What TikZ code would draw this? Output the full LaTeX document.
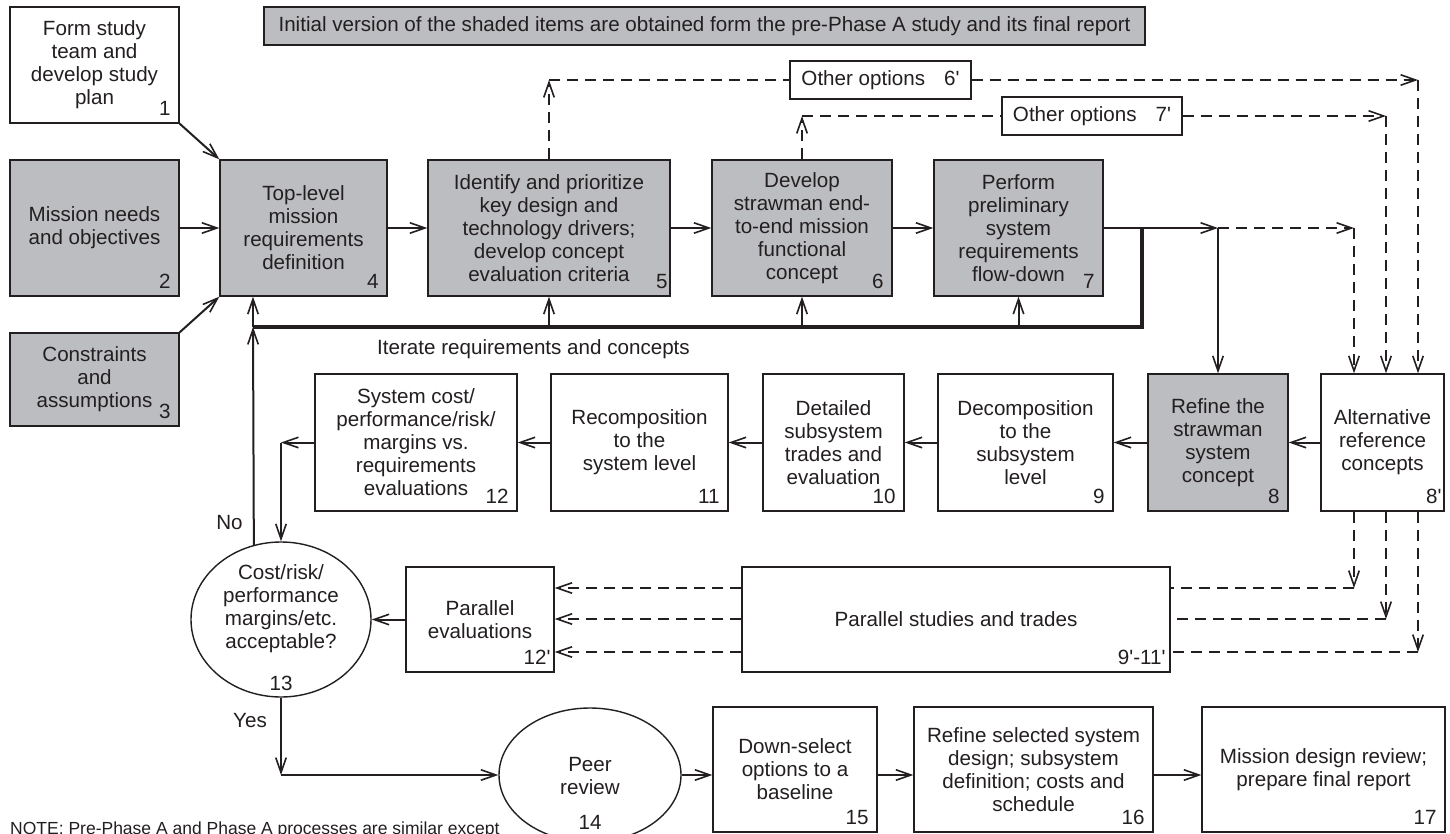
\documentclass[tikz,border=0pt]{standalone}
\usepackage{fontspec}
\setmainfont{Liberation Sans}[Ligatures=TeXOff]
\usetikzlibrary{arrows.meta,shapes.geometric}
\definecolor{ink}{RGB}{35,31,32}
\definecolor{shade}{RGB}{188,189,192}
\tikzset{
  lbl/.style={text=ink, font=\fontsize{20.6}{23}\selectfont, inner sep=0pt},
  box/.style={lbl, draw=ink, line width=1.4pt, fill=white, align=center, rectangle},
  gbox/.style={box, fill=shade},
  oval/.style={lbl, draw=ink, line width=1.4pt, ellipse, fill=white},
  num/.style={lbl, anchor=south east, xshift=-9pt, yshift=8pt},
  conn/.style={draw=ink, line width=2pt},
  barbtip/.style={-{Straight Barb[length=15pt,width=10.5pt,line width=1.6pt]}},
  arr/.style={conn, barbtip},
  dline/.style={draw=ink, line width=2.2pt, dash pattern=on 11pt off 7pt},
  darr/.style={dline, barbtip},
  iterline/.style={draw=ink, line width=4.5pt},
}
\begin{document}
\begin{tikzpicture}[x=1pt,y=-1pt]
\fill[white] (0,0) rectangle (1450,834);
\useasboundingbox (0,0) rectangle (1450,834);

% heading note
\node[gbox, minimum width=881pt, minimum height=38pt] (hdr) at (704.5,26)
  {Initial version of the shaded items are obtained form the pre-Phase A study and its final report};

% top row
\node[box, minimum width=169pt, minimum height=116pt] (b1) at (94.5,65) {Form study\\team and\\develop study\\plan};
\node[gbox, minimum width=169pt, minimum height=136pt] (b2) at (94.5,228) {Mission needs\\and objectives};
\node[gbox, minimum width=169pt, minimum height=93pt] (b3) at (94.5,379.5) {Constraints\\and\\assumptions};
\node[gbox, minimum width=167pt, minimum height=136pt] (b4) at (303.5,228) {Top-level\\mission\\requirements\\definition};
\node[gbox, minimum width=242pt, minimum height=136pt] (b5) at (549,228) {Identify and prioritize\\key design and\\technology drivers;\\develop concept\\evaluation criteria};
\node[gbox, minimum width=180pt, minimum height=136pt] (b6) at (802,228) {Develop\\strawman end-\\to-end mission\\functional\\concept};
\node[gbox, minimum width=169pt, minimum height=136pt] (b7) at (1018.5,228) {Perform\\preliminary\\system\\requirements\\flow-down};

% other options
\node[box, minimum width=181pt, minimum height=38pt] (o6) at (880.5,80) {Other options\hspace{19pt}6'};
\node[box, minimum width=180pt, minimum height=38pt] (o7) at (1092,116) {Other options\hspace{19pt}7'};

% middle row
\node[box, minimum width=202pt, minimum height=137pt] (b12) at (416,442.5) {System cost/\\performance/risk/\\margins vs.\\requirements\\evaluations};
\node[box, minimum width=177pt, minimum height=137pt] (b11) at (639.5,442.5) {Recomposition\\to the\\system level};
\node[box, minimum width=141pt, minimum height=137pt] (b10) at (833.5,442.5) {Detailed\\subsystem\\trades and\\evaluation};
\node[box, minimum width=175pt, minimum height=137pt] (b9) at (1025.5,442.5) {Decomposition\\to the\\subsystem\\level};
\node[gbox, minimum width=140pt, minimum height=137pt] (b8) at (1218,442.5) {Refine the\\strawman\\system\\concept};
\node[box, minimum width=123pt, minimum height=137pt] (b8p) at (1382.5,442.5) {Alternative\\reference\\concepts};

% third row
\node[oval, minimum width=180pt, minimum height=155pt] (b13) at (281,619.5) {};
\node[lbl, align=center] (t13) at (281,608.5) {Cost/risk/\\performance\\margins/etc.\\acceptable?};
\node[lbl] (n13) at (281,683) {13};
\node[box, minimum width=148pt, minimum height=105pt] (b12p) at (480,619.5) {Parallel\\evaluations};
\node[box, minimum width=428pt, minimum height=105pt] (bps) at (956,619.5) {Parallel studies and trades};

% bottom row
\node[oval, minimum width=182pt, minimum height=134pt] (b14) at (590,775) {};
\node[lbl, align=center] (t14) at (590,776) {Peer\\review};
\node[lbl] (n14) at (590,822) {14};
\node[box, minimum width=164pt, minimum height=125pt] (b15) at (795,769.5) {Down-select\\options to a\\baseline};
\node[box, minimum width=239pt, minimum height=125pt] (b16) at (1033.5,769.5) {Refine selected system\\design; subsystem\\definition; costs and\\schedule};
\node[box, minimum width=243pt, minimum height=125pt] (b17) at (1323.5,769.5) {Mission design review;\\prepare final report};

% step numbers
\node[num] (n1) at (b1.south east) {1};
\node[num] (n2) at (b2.south east) {2};
\node[num] (n3) at (b3.south east) {3};
\node[num] (n4) at (b4.south east) {4};
\node[num, xshift=6pt] (n5) at (b5.south east) {5};
\node[num] (n6) at (b6.south east) {6};
\node[num] (n7) at (b7.south east) {7};
\node[num] (n8) at (b8.south east) {8};
\node[num, xshift=6pt] (n8p) at (b8p.south east) {8'};
\node[num] (n9) at (b9.south east) {9};
\node[num] (n10) at (b10.south east) {10};
\node[num] (n11) at (b11.south east) {11};
\node[num] (n12) at (b12.south east) {12};
\node[num, xshift=5pt] (n12p) at (b12p.south east) {12'};
\node[num, xshift=4pt] (nps) at (bps.south east) {9'-11'};
\node[num] (n15) at (b15.south east) {15};
\node[num] (n16) at (b16.south east) {16};
\node[num] (n17) at (b17.south east) {17};

% free labels
\node[lbl] (no) at (229.5,522.5) {No};
\node[lbl] (yes) at (250,720.5) {Yes};
\node[lbl, anchor=west] (iter) at (377,349) {Iterate requirements and concepts};
\node[lbl, font=\fontsize{17.5}{20}\selectfont, anchor=base west] (note) at (10,834)
  {NOTE: Pre-Phase A and Phase A processes are similar except};

% inputs to the top-level requirements
\draw[arr] (b1.south east) -- (b4.north west);
\draw[arr] (b2.east) -- (b4.west);
\draw[arr] (b3.north east) -- (b4.south west);

% main flow along the top row
\draw[arr] (b4.east) -- (b5.west);
\draw[arr] (b5.east) -- (b6.west);
\draw[arr] (b6.east) -- (b7.west);
\coordinate (split) at (b8.north |- b7.east);
\draw[arr] (b7.east) -- (split);
\draw[arr] (split) -- (b8.north);

% iteration loop
\coordinate (iterR) at (1142,229);
\coordinate (iterB) at (1142,327);
\coordinate (iterL) at (253,327);
\draw[iterline] (iterR) -- (iterB) -- (iterL);
\draw[arr] (b5.south |- iterB) -- (b5.south);
\draw[arr] (b6.south |- iterB) -- (b6.south);
\draw[arr] (b7.south |- iterB) -- (b7.south);
\draw[arr] (b13.110.8) -- (iterL);
\draw[arr] (iterL) -- (iterL |- b4.south);

% other options branches
\coordinate (u5) at (b5.north |- o6.west);
\coordinate (u6) at (b6.north |- o7.west);
\draw[darr] (b5.north) -- (u5);
\draw[dline] (u5) -- (o6.west);
\draw[darr] (b6.north) -- (u6);
\draw[dline] (u6) -- (o7.west);
\coordinate (r6) at (1418,80);
\coordinate (r7) at (1386,116);
\coordinate (r8) at (1354,228);
\draw[darr] (o6.east) -- (r6);
\draw[darr] (r6) -- (r6 |- b8p.north);
\draw[darr] (o7.east) -- (r7);
\draw[darr] (r7) -- (r7 |- b8p.north);
\draw[darr] (split) -- (r8);
\draw[darr] (r8) -- (r8 |- b8p.north);

% middle row, right to left
\draw[arr] (b8p.west) -- (b8.east);
\draw[arr] (b8.west) -- (b9.east);
\draw[arr] (b9.west) -- (b10.east);
\draw[arr] (b10.west) -- (b11.east);
\draw[arr] (b11.west) -- (b12.east);
\coordinate (c12) at (b13.north |- b12.west);
\draw[arr] (b12.west) -- (c12);
\draw[arr] (c12) -- (b13.north);

% parallel studies
\coordinate (s1) at (1354,588);
\coordinate (s2) at (1386,619);
\coordinate (s3) at (1418,652);
\foreach \s in {s1,s2,s3}{
  \draw[darr] (\s |- b8p.south) -- (\s);
  \draw[dline] (\s) -- (\s -| bps.east);
  \draw[darr] (\s -| bps.west) -- (\s -| b12p.east);
}
\draw[arr] (b12p.west) -- (b13.east);

% acceptance path
\coordinate (yesC) at (b13.south |- b14.west);
\draw[arr] (b13.south) -- (yesC);
\draw[arr] (yesC) -- (b14.west);
\draw[arr] (b14.east) -- (b14.east -| b15.west);
\draw[arr] (b15.east |- b14.east) -- (b16.west |- b14.east);
\draw[arr] (b16.east |- b14.east) -- (b17.west |- b14.east);
\end{tikzpicture}
\end{document}
